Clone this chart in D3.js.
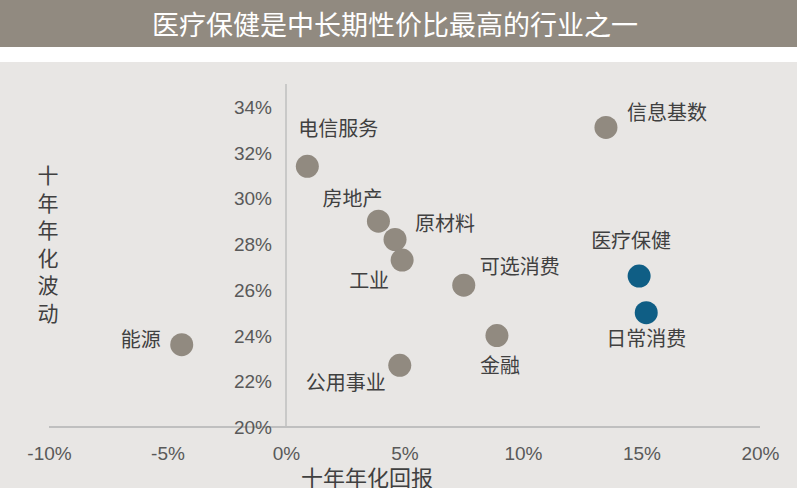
<!DOCTYPE html>
<html>
<head>
<meta charset="utf-8">
<script src="https://cdn.jsdelivr.net/npm/d3@7"></script>
<style>
  body { margin: 0; background: #fff; }
  svg text { font-family: "Noto Sans CJK SC", "Liberation Sans", sans-serif; }
  .tick text { font-family: "Liberation Sans", Arial, sans-serif; }
</style>
</head>
<body>
<div id="chart"></div>
<script>
// Data: ten-year annualised return (x, %) vs. volatility (y, %)
var sectors = ['电信服务', '房地产', '原材料', '工业', '可选消费', '金融', '公用事业', '能源', '信息基数', '医疗保健', '日常消费'];
var returns = [0.9, 3.9, 4.6, 4.9, 7.5, 8.9, 4.8, -4.4, 13.5, 14.9, 15.2];
var vols = [31.4, 29.0, 28.2, 27.3, 26.2, 24.0, 22.7, 23.6, 33.1, 26.6, 25.0];
var highlight = ['医疗保健', '日常消费'];
var xTicks = [-10, -5, 0, 5, 10, 15, 20];
var yTicks = [20, 22, 24, 26, 28, 30, 32, 34];

var title = '医疗保健是中长期性价比最高的行业之一';
var xTitle = '十年年化回报';
var yTitle = '十年年化波动';

var width = 797, height = 488;

var svg = d3.select('#chart').append('svg')
    .attr('width', width)
    .attr('height', height);

// title band + grey panel
svg.append('rect').attr('x', 0).attr('y', 0).attr('width', width).attr('height', 47).attr('fill', '#918a80');
svg.append('rect').attr('x', 0).attr('y', 62).attr('width', width).attr('height', height - 62).attr('fill', '#e8e6e4');
svg.append('text')
    .attr('x', 395).attr('y', 23)
    .attr('text-anchor', 'middle')
    .attr('dominant-baseline', 'central')
    .attr('fill', '#fff')
    .style('font-size', '27px')
    .text(title);

// scales
var x = d3.scaleLinear().domain([-10, 20]).range([49, 760]);
var y = d3.scaleLinear().domain([20, 35]).range([427, 84]);

// x axis line
svg.append('line')
    .attr('x1', x(-10)).attr('x2', x(20))
    .attr('y1', y(20)).attr('y2', y(20))
    .attr('stroke', '#bfbfbf').attr('stroke-width', 2);
// y axis line
svg.append('line')
    .attr('x1', x(0)).attr('x2', x(0))
    .attr('y1', y(35)).attr('y2', y(20))
    .attr('stroke', '#bfbfbf').attr('stroke-width', 1.5);

var xAxis = svg.append('g')
    .attr('transform', 'translate(0,' + 453 + ')')
    .call(d3.axisBottom(x).tickValues(xTicks).tickSize(0).tickFormat(function (d) { return d + '%'; }));
xAxis.select('.domain').remove();
xAxis.selectAll('text')
    .attr('dy', null).attr('y', 0)
    .attr('dominant-baseline', 'central')
    .attr('fill', '#595959')
    .style('font-size', '19px');

var yAxis = svg.append('g')
    .attr('transform', 'translate(' + 272 + ',0)')
    .call(d3.axisLeft(y).tickValues(yTicks).tickSize(0).tickFormat(function (d) { return d + '%'; }));
yAxis.select('.domain').remove();
yAxis.selectAll('text')
    .attr('x', 0).attr('dy', null)
    .attr('dominant-baseline', 'central')
    .attr('fill', '#595959')
    .style('font-size', '19px');

// axis titles
svg.append('text')
    .attr('x', 367).attr('y', 476)
    .attr('text-anchor', 'middle')
    .attr('dominant-baseline', 'central')
    .attr('fill', '#404040')
    .style('font-size', '22px')
    .text(xTitle);

// vertical title, one character per line
svg.append('text')
    .attr('x', 48)
    .attr('y', 175)
    .attr('text-anchor', 'middle')
    .attr('fill', '#404040')
    .style('font-size', '21px')
    .selectAll('tspan')
    .data(yTitle.split(''))
    .enter().append('tspan')
    .attr('x', 48)
    .attr('y', function (d, i) { return 183 + i * 27.5; })
    .text(function (d) { return d; });

// points
var points = sectors.map(function (s, i) { return { name: s, x: returns[i], y: vols[i] }; });

svg.append('g').selectAll('circle')
    .data(points)
    .enter().append('circle')
    .attr('cx', function (d) { return x(d.x); })
    .attr('cy', function (d) { return y(d.y); })
    .attr('r', 11.5)
    .attr('fill', function (d) { return highlight.indexOf(d.name) >= 0 ? '#0f5e85' : '#918a80'; });

// label offsets in px, relative to each dot
var labelOffset = {
    '电信服务': [31, -39], '房地产': [-26, -24], '原材料': [50, -17], '工业': [-33, 19],
    '可选消费': [56, -20], '金融': [3, 29], '公用事业': [-54, 16], '能源': [-41, -6],
    '信息基数': [61, -16], '医疗保健': [-8, -37], '日常消费': [0, 25]
};

svg.append('g').selectAll('text')
    .data(points)
    .enter().append('text')
    .attr('x', function (d) { return x(d.x) + labelOffset[d.name][0]; })
    .attr('y', function (d) { return y(d.y) + labelOffset[d.name][1]; })
    .attr('text-anchor', 'middle')
    .attr('dominant-baseline', 'central')
    .attr('fill', '#404040')
    .style('font-size', '20px')
    .text(function (d) { return d.name; });
</script>
</body>
</html>
